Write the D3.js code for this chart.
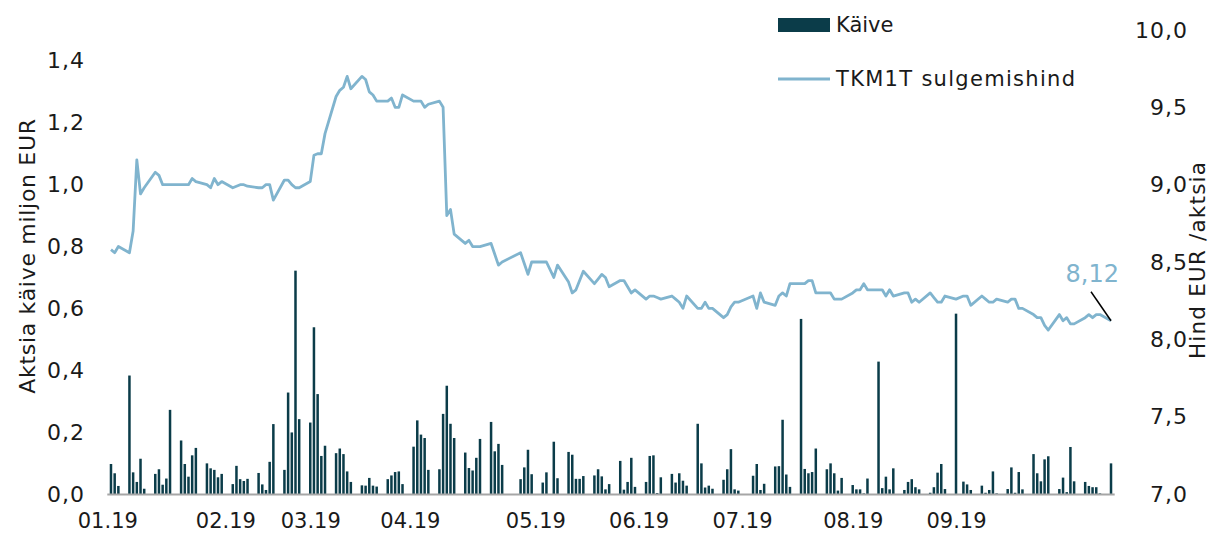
<!DOCTYPE html>
<html><head><meta charset="utf-8">
<script src="https://cdn.jsdelivr.net/npm/d3@7/dist/d3.min.js"></script>
<style>
body{margin:0;background:#fff}
svg{display:block}
text{font-family:"DejaVu Sans",sans-serif;fill:#1a1a1a}
</style>
</head><body>
<svg id="chart" width="1210" height="536"></svg>
<script>
// ---- data (2019 trading days) ----
const tradingDays = [
"01-02","01-03","01-04","01-07","01-08","01-09","01-10","01-11","01-14","01-15","01-16","01-17","01-18","01-21","01-22","01-23","01-24","01-25","01-28","01-29","01-30","01-31",
"02-01","02-04","02-05","02-06","02-07","02-08","02-11","02-12","02-13","02-14","02-15","02-18","02-19","02-20","02-21","02-22","02-25","02-26","02-27","02-28",
"03-01","03-04","03-05","03-06","03-07","03-08","03-11","03-12","03-13","03-14","03-15","03-18","03-19","03-20","03-21","03-22","03-25","03-26","03-27","03-28","03-29",
"04-01","04-02","04-03","04-04","04-05","04-08","04-09","04-10","04-11","04-12","04-15","04-16","04-17","04-18","04-23","04-24","04-25","04-26","04-29","04-30",
"05-02","05-03","05-06","05-07","05-08","05-09","05-10","05-13","05-14","05-15","05-16","05-17","05-20","05-21","05-22","05-23","05-24","05-27","05-28","05-29","05-30","05-31",
"06-03","06-04","06-05","06-06","06-07","06-10","06-11","06-12","06-13","06-14","06-17","06-18","06-19","06-20","06-21","06-25","06-26","06-27","06-28",
"07-01","07-02","07-03","07-04","07-05","07-08","07-09","07-10","07-11","07-12","07-15","07-16","07-17","07-18","07-19","07-22","07-23","07-24","07-25","07-26","07-29","07-30","07-31",
"08-01","08-02","08-05","08-06","08-07","08-08","08-09","08-12","08-13","08-14","08-15","08-16","08-19","08-21","08-22","08-23","08-26","08-27","08-28","08-29","08-30",
"09-02","09-03","09-04","09-05","09-06","09-09","09-10","09-11","09-12","09-13","09-16","09-17","09-18","09-19","09-20","09-23","09-24","09-25","09-26","09-27","09-30"
];
// Käive, miljon EUR
const turnover = [
0.097,0.067,0.026,0.383,0.070,0.039,0.114,0.017,0.065,0.080,0.030,0.050,0.272,0.173,0.097,0.056,0.125,0.149,0.099,0.083,0.078,0.054,
0.065,0.032,0.091,0.048,0.042,0.049,0.068,0.031,0.013,0.104,0.226,0.078,0.328,0.199,0.722,0.242,0.231,0.539,0.323,0.123,
0.156,0.132,0.147,0.129,0.073,0.039,0.028,0.027,0.052,0.027,0.024,0.048,0.060,0.071,0.073,0.032,0.153,0.238,0.192,0.181,0.078,
0.080,0.259,0.350,0.227,0.181,0.134,0.084,0.076,0.117,0.178,0.233,0.138,0.162,0.094,0.048,0.086,0.143,0.064,0.037,0.070,
0.169,0.051,0.136,0.127,0.049,0.049,0.058,0.060,0.080,0.057,0.015,0.032,0.107,0.014,0.039,0.117,0.023,0.039,0.123,0.125,0.003,0.054,
0.065,0.037,0.067,0.043,0.027,0.227,0.099,0.021,0.027,0.017,0.046,0.080,0.145,0.015,0.011,0.059,0.097,0.013,0.033,
0.089,0.090,0.240,0.063,0.023,0.566,0.081,0.067,0.071,0.147,0.080,0.099,0.067,0.011,0.052,0.029,0.015,0.015,0.002,0.050,0.428,0.019,0.056,
0.015,0.083,0.013,0.039,0.048,0.022,0.015,0.004,0.022,0.069,0.097,0.016,0.583,0.040,0.031,0.013,0.027,0.004,0.013,0.073,0.002,
0.016,0.086,0.004,0.071,0.015,0.129,0.067,0.041,0.112,0.122,0.016,0.053,0.006,0.152,0.041,0.039,0.026,0.022,0.022,0.002,0.099
];
// TKM1T sulgemishind, EUR
const closePrice = [
8.58,8.56,8.60,8.56,8.70,9.16,8.94,8.98,9.08,9.06,9.00,9.00,9.00,9.00,9.00,9.00,9.04,9.02,9.00,8.98,9.04,9.00,
9.02,8.98,8.99,9.00,9.00,8.99,8.98,8.98,9.00,9.00,8.90,9.03,9.03,9.00,8.98,8.98,9.02,9.19,9.20,9.20,
9.33,9.57,9.61,9.63,9.70,9.62,9.70,9.68,9.60,9.58,9.54,9.54,9.56,9.50,9.50,9.58,9.54,9.54,9.54,9.50,9.52,
9.54,9.50,8.80,8.84,8.68,8.62,8.64,8.60,8.60,8.60,8.62,8.55,8.48,8.50,8.56,8.49,8.42,8.50,8.50,8.50,
8.40,8.48,8.37,8.30,8.32,8.38,8.44,8.36,8.39,8.42,8.40,8.34,8.38,8.38,8.34,8.30,8.32,8.26,8.28,8.28,8.27,8.26,
8.28,8.26,8.24,8.20,8.28,8.20,8.20,8.24,8.20,8.20,8.14,8.16,8.21,8.24,8.24,8.28,8.20,8.30,8.24,
8.22,8.28,8.30,8.28,8.36,8.36,8.36,8.38,8.38,8.30,8.30,8.30,8.26,8.26,8.26,8.30,8.32,8.32,8.36,8.32,8.32,8.32,8.28,
8.32,8.28,8.30,8.30,8.24,8.26,8.24,8.30,8.27,8.24,8.24,8.28,8.26,8.28,8.28,8.22,8.28,8.26,8.24,8.24,8.26,
8.24,8.26,8.26,8.20,8.20,8.16,8.14,8.14,8.09,8.06,8.16,8.12,8.14,8.10,8.10,8.14,8.16,8.14,8.16,8.16,8.12
];
const xTickLabels = ["01.19","02.19","03.19","04.19","05.19","06.19","07.19","08.19","09.19"];
const xTickDates  = ["01-01","02-02","02-25","03-24","04-27","05-25","06-22","07-22","08-19"];
const leftTicks  = [0,0.2,0.4,0.6,0.8,1.0,1.2,1.4];
const rightTicks = [7,7.5,8,8.5,9,9.5,10];
const seriesNames = ["Käive","TKM1T sulgemishind"];
const axisTitles = ["Aktsia käive miljon EUR","Hind EUR /aktsia"];

// ---- chart ----
const parse = s => new Date(Date.UTC(2019, +s.slice(0,2)-1, +s.slice(3,5)));
const n = Math.min(tradingDays.length, turnover.length, closePrice.length);
const data = d3.range(n).map(i => ({date: parse(tradingDays[i]), v: turnover[i], p: closePrice[i]}));

const BAR = "#0b3c49", LINE = "#80b4ce";
const svg = d3.select("#chart");
const x = d3.scaleUtc().domain([Date.UTC(2019,0,1), Date.UTC(2019,9,1)]).range([107.3, 1114.7]);
const yL = d3.scaleLinear().domain([0,1.5]).range([494,30]);
const yR = d3.scaleLinear().domain([7,10]).range([494,30]);
const fmt1 = v => d3.format(".1f")(v).replace(".", ",");

// bars
svg.append("g").selectAll("rect").data(data).join("rect")
  .attr("x", d => x(d.date) - 1.25).attr("width", 2.5)
  .attr("y", d => yL(d.v)).attr("height", d => yL(0) - yL(d.v))
  .attr("fill", BAR);

// price line
svg.append("path").datum(data)
  .attr("fill","none").attr("stroke",LINE).attr("stroke-width",2.8)
  .attr("stroke-linejoin","round")
  .attr("d", d3.line().x(d => x(d.date)).y(d => yR(d.p)));

// baseline
svg.append("line").attr("x1", x.range()[0]).attr("x2", x.range()[1])
  .attr("y1", yL(0)+0.5).attr("y2", yL(0)+0.5)
  .attr("stroke","#a6a6a6").attr("stroke-width",2);

// left axis
const gl = svg.append("g").attr("transform","translate(85,0)")
  .call(d3.axisLeft(yL).tickValues(leftTicks).tickFormat(fmt1).tickSize(0).tickPadding(0));
gl.select(".domain").remove();
gl.selectAll("text").attr("font-size",22).attr("letter-spacing",1).attr("font-family","DejaVu Sans").attr("fill","#1a1a1a");

// right axis
const gr = svg.append("g").attr("transform","translate(1188,0)")
  .call(d3.axisRight(yR).tickValues(rightTicks).tickFormat(fmt1).tickSize(0).tickPadding(0));
gr.select(".domain").remove();
gr.selectAll("text").attr("text-anchor","end").attr("x",0).attr("font-size",22).attr("letter-spacing",1).attr("font-family","DejaVu Sans").attr("fill","#1a1a1a");

// x axis
const gx = svg.append("g").attr("transform","translate(0,513)")
  .call(d3.axisBottom(x).tickValues(xTickDates.map(parse)).tickFormat((d,i) => xTickLabels[i]).tickSize(0).tickPadding(0));
gx.select(".domain").remove();
gx.selectAll("text").attr("font-size",21).attr("font-family","DejaVu Sans").attr("fill","#1a1a1a");

// axis titles
svg.append("text").attr("transform","translate(35,256) rotate(-90)")
  .attr("text-anchor","middle").attr("font-size",22).attr("letter-spacing",0.7).text(axisTitles[0]);
svg.append("text").attr("transform","translate(1205,260) rotate(-90)")
  .attr("text-anchor","middle").attr("font-size",21.5).attr("letter-spacing",1.2).text(axisTitles[1]);

// legend
svg.append("rect").attr("x",778).attr("y",18).attr("width",52).attr("height",14).attr("fill",BAR);
svg.append("text").attr("x",836).attr("y",32).attr("font-size",21).text(seriesNames[0]);
svg.append("line").attr("x1",778).attr("x2",830).attr("y1",79).attr("y2",79).attr("stroke",LINE).attr("stroke-width",2.8);
svg.append("text").attr("x",836).attr("y",86).attr("font-size",21).attr("letter-spacing",1.3).text(seriesNames[1]);

// last value annotation
const last = data[data.length-1];
const lx = x(last.date), ly = yR(last.p);
svg.append("line").attr("x1", lx-20).attr("y1", ly-29).attr("x2", lx).attr("y2", ly)
  .attr("stroke","#000").attr("stroke-width",1.5);
svg.append("text").attr("x", lx+8).attr("y", ly-39).attr("text-anchor","end")
  .attr("font-size",24).style("fill",LINE).text(d3.format(".2f")(last.p).replace(".", ","));
</script>
</body></html>
